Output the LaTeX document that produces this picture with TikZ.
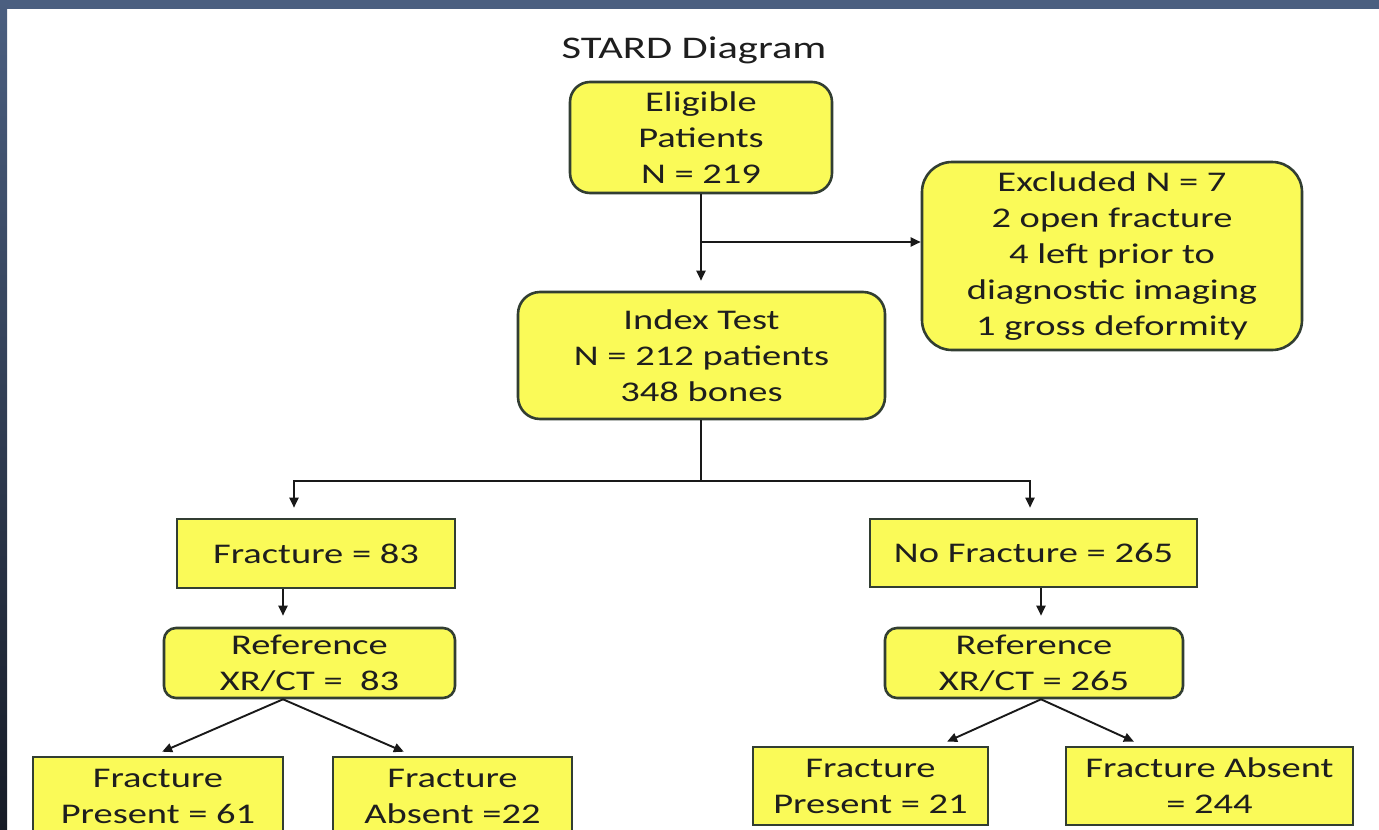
\documentclass[tikz,border=0pt]{standalone}
\usepackage{fontspec}
\setmainfont{Carlito}[FakeStretch=1.35]
\usetikzlibrary{arrows.meta}
\definecolor{boxfill}{RGB}{250,250,88}
\definecolor{boxline}{RGB}{50,62,50}
\definecolor{frameblue}{RGB}{75,95,128}
\definecolor{framedark}{RGB}{22,27,38}
\definecolor{txt}{RGB}{30,30,30}
\begin{document}
\begin{tikzpicture}[x=1pt,y=-1pt,
  box/.style={draw=boxline, line width=2.6pt, fill=boxfill, align=center, inner sep=0pt,
    text=txt, font=\fontsize{28.5}{36}\selectfont},
  rbox/.style={box, rounded corners=#1}, rbox/.default=18pt,
  conn/.style={line width=1.9pt, black!90},
  arr/.style={conn, -{Triangle[length=10pt,width=9pt]}},
  titletext/.style={text=txt, font=\fontsize{31.5}{36}\selectfont, inner sep=0pt},
]
\useasboundingbox (0,0) rectangle (1379,830);
\clip (0,0) rectangle (1379,830);
\fill[white] (0,0) rectangle (1379,830);
\fill[frameblue] (0,0) rectangle (1379,9);
\shade[top color=frameblue, bottom color=framedark] (0,0) rectangle (7,830);

\node[titletext, anchor=base] (title) at (694,58) {STARD Diagram};

\node[rbox=20pt, minimum width=262pt, minimum height=111pt] (elig) at (701,137.5) {Eligible\\Patients\\N = 219};
\node[rbox=30pt, minimum width=380pt, minimum height=188pt] (excl) at (1112,256) {Excluded N = 7\\2 open fracture\\4 left prior to\\diagnostic imaging\\1 gross deformity};
\node[rbox=22pt, minimum width=367pt, minimum height=127pt] (idx) at (701.5,355.5) {Index Test\\N = 212 patients\\348 bones};
\node[box, minimum width=278pt, minimum height=69pt] (f83) at (316,553.5) {Fracture = 83};
\node[box, minimum width=327pt, minimum height=68pt] (nf) at (1033.5,553) {No Fracture = 265};
\node[rbox=12pt, minimum width=291pt, minimum height=70pt] (r83) at (309.5,663) {Reference\\XR/CT = \ 83};
\node[rbox=12pt, minimum width=298pt, minimum height=70pt] (r265) at (1034,663) {Reference\\XR/CT = 265};
\node[box, minimum width=250pt, minimum height=78pt] (p61) at (158,796) {Fracture\\Present = 61};
\node[box, minimum width=239pt, minimum height=78pt] (a22) at (452.5,796) {Fracture\\Absent =22};
\node[box, minimum width=235pt, minimum height=78pt] (p21) at (870.5,786) {Fracture\\Present = 21};
\node[box, minimum width=287pt, minimum height=78pt] (a244) at (1209.5,786) {Fracture Absent\\= 244};

\coordinate (br) at (701,242);
\draw[arr, shorten >=10pt] (elig.south) -- (elig.south |- idx.north);
\draw[arr] (br) -- (br -| excl.west);

\coordinate (split) at (701,481);
\coordinate (sl) at (294,481);
\coordinate (sr) at (1030,481);
\draw[conn] (idx.south -| split) -- (split);
\draw[arr, shorten >=10pt] (split) -- (sl) -- (sl |- f83.north);
\draw[arr, shorten >=10pt] (split) -- (sr) -- (sr |- nf.north);

\draw[arr, shorten >=11pt] ([xshift=-33pt]f83.south) -- ([xshift=-26.5pt]r83.north);
\draw[arr, shorten >=11pt] ([xshift=7.5pt]nf.south) -- ([xshift=7pt]r265.north);

\draw[arr, shorten >=10pt] ([xshift=-26.5pt]r83.south) -- ([xshift=-5pt]p61.north);
\draw[arr, shorten >=10pt] ([xshift=-26.5pt]r83.south) -- ([xshift=-39.5pt]a22.north);
\draw[arr, shorten >=10pt] ([xshift=7pt]r265.south) -- ([xshift=67.5pt]p21.north);
\draw[arr, shorten >=10pt] ([xshift=7pt]r265.south) -- ([xshift=-66.5pt]a244.north);
\end{tikzpicture}
\end{document}
